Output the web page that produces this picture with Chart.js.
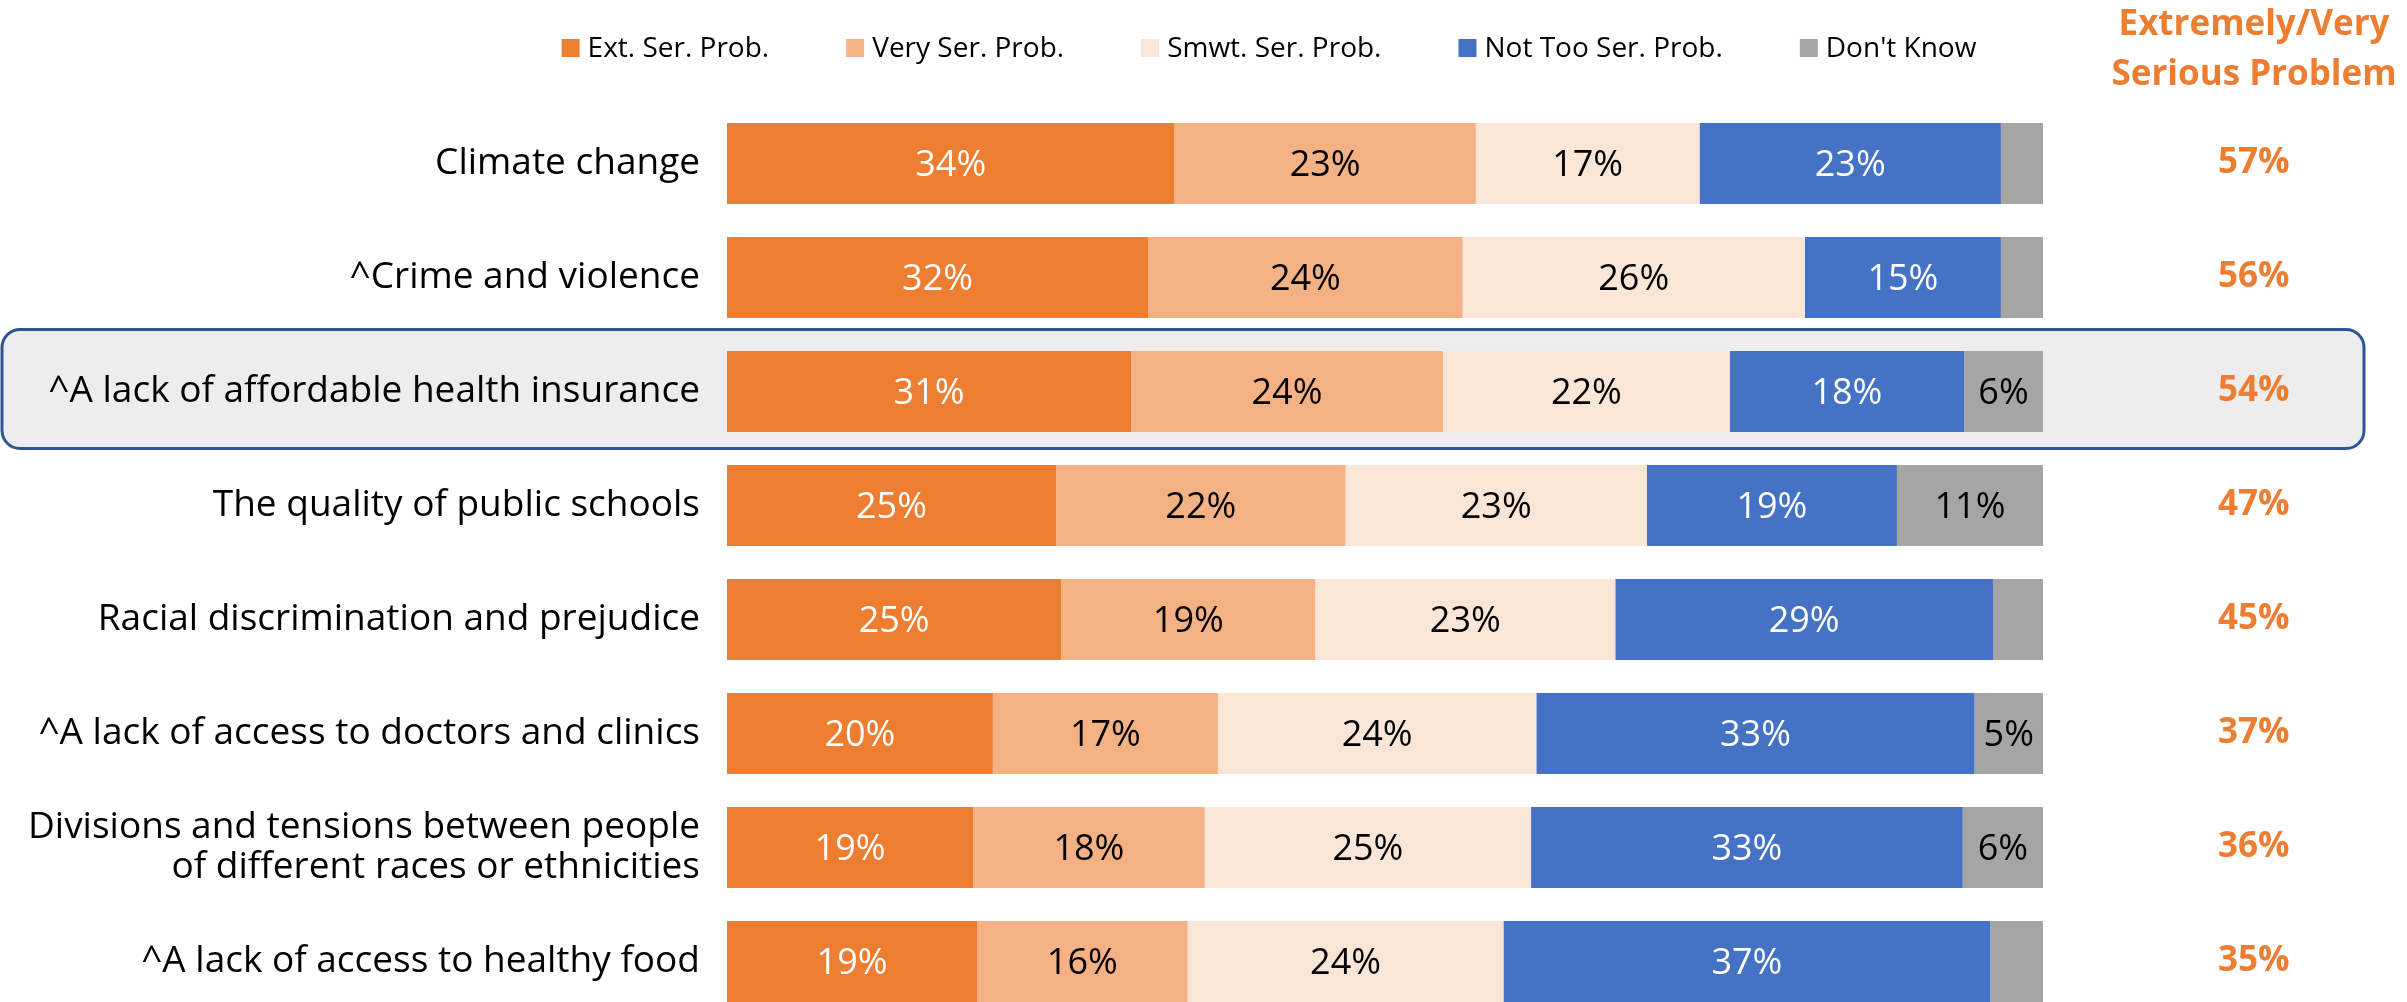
<!DOCTYPE html>
<html>
<head>
<meta charset="utf-8">
<title>Serious problems</title>
<script src="https://cdn.jsdelivr.net/npm/chart.js@4.4.1/dist/chart.umd.min.js"></script>
<style>
  html, body { margin: 0; padding: 0; background: #fff; }
  #wrap { width: 2407px; height: 1002px; position: relative; }
</style>
</head>
<body>
<div id="wrap"><canvas id="chart"></canvas></div>
<script>
// Categories (top to bottom)
const categories = [
  'Climate change',
  '^Crime and violence',
  '^A lack of affordable health insurance',
  'The quality of public schools',
  'Racial discrimination and prejudice',
  '^A lack of access to doctors and clinics',
  ['Divisions and tensions between people', 'of different races or ethnicities'],
  '^A lack of access to healthy food'
];

// Series values (percent)
const extSerious = [34.0, 32.0, 30.7, 25.0, 25.4, 20.2, 18.7, 19.0];
const verySerious = [22.9, 23.9, 23.7, 22.0, 19.3, 17.1, 17.6, 16.0];
const smwtSerious = [17.0, 26.0, 21.8, 22.9, 22.8, 24.2, 24.8, 24.0];
const notTooSerious = [22.9, 14.9, 17.8, 19.0, 28.7, 33.3, 32.8, 37.0];
const dontKnow = [3.2, 3.2, 6.0, 11.1, 3.8, 5.2, 6.1, 4.0];

// Extremely/Very serious totals shown on the right
const seriousTotals = [57, 56, 54, 47, 45, 37, 36, 35];

const seriesNames = ['Ext. Ser. Prob.', 'Very Ser. Prob.', 'Smwt. Ser. Prob.', 'Not Too Ser. Prob.', "Don't Know"];
const seriesColors = ['#ED7D31', '#F4B183', '#FBE5D6', '#4472C4', '#A5A5A5'];
const labelColors = ['#FFFFFF', '#000000', '#000000', '#FFFFFF', '#000000'];

const highlightRow = 2;
const FONT = "'Open Sans', 'Noto Sans', sans-serif";
const ORANGE = '#ED7D31';

// Background + highlight box behind row 3
const backdropPlugin = {
  id: 'backdrop',
  beforeDraw: (chart) => {
    const { ctx } = chart;
    const yScale = chart.scales.y;
    ctx.save();
    ctx.fillStyle = '#FFFFFF';
    ctx.fillRect(0, 0, chart.width, chart.height);

    const cy = yScale.getPixelForValue(highlightRow);
    ctx.beginPath();
    ctx.roundRect(2, cy - 62, 2362, 119, 18);
    ctx.fillStyle = '#EDEDED';
    ctx.fill();
    ctx.lineWidth = 3;
    ctx.strokeStyle = '#2F5597';
    ctx.stroke();
    ctx.restore();
  }
};

// Percent labels inside the segments
const segmentLabelPlugin = {
  id: 'segmentLabels',
  afterDatasetsDraw: (chart) => {
    const { ctx } = chart;
    ctx.save();
    ctx.font = `36px ${FONT}`;
    ctx.textAlign = 'center';
    ctx.textBaseline = 'middle';
    chart.data.datasets.forEach((ds, i) => {
      const meta = chart.getDatasetMeta(i);
      meta.data.forEach((bar, j) => {
        const v = ds.data[j];
        if (v < 4.5) return;
        const { x, y } = bar.getCenterPoint();
        ctx.fillStyle = labelColors[i];
        ctx.fillText(Math.round(v) + '%', x, y + 2);
      });
    });
    ctx.restore();
  }
};

// Legend row and right-hand header
const legendHeaderPlugin = {
  id: 'legendHeader',
  afterDraw: (chart) => {
    const { ctx } = chart;
    ctx.save();
    ctx.font = `28px ${FONT}`;
    ctx.textBaseline = 'middle';
    ctx.textAlign = 'left';
    const box = 18, textGap = 8, itemGap = 77;
    const widths = chart.data.datasets.map(ds => ctx.measureText(ds.label).width);
    const total = widths.reduce((a, w) => a + box + textGap + w, 0) + itemGap * (widths.length - 1);
    let x = 1269 - total / 2;
    const ly = 48;
    chart.data.datasets.forEach((ds, i) => {
      ctx.fillStyle = ds.backgroundColor;
      ctx.fillRect(x, ly - box / 2, box, box);
      ctx.fillStyle = '#000000';
      ctx.fillText(ds.label, x + box + textGap, ly + 1);
      x += box + textGap + widths[i] + itemGap;
    });

    ctx.font = `bold 35px ${FONT}`;
    ctx.textAlign = 'center';
    ctx.textBaseline = 'alphabetic';
    ctx.fillStyle = ORANGE;
    ctx.fillText('Extremely/Very', 2254, 35);
    ctx.fillText('Serious Problem', 2254, 85);
    ctx.restore();
  }
};

// axis widths are fixed; drop the label overhang so the layout padding alone sets the rows
const fixAxis = (width) => (scale) => {
  scale.width = width;
  scale.paddingTop = 0;
  scale.paddingBottom = 0;
};

const seriesData = [extSerious, verySerious, smwtSerious, notTooSerious, dontKnow];

new Chart(document.getElementById('chart'), {
  type: 'bar',
  data: {
    labels: categories,
    datasets: seriesData.map((data, i) => ({
      label: seriesNames[i],
      data,
      backgroundColor: seriesColors[i],
      borderWidth: 0,
      barPercentage: 0.711,
      categoryPercentage: 1,
      clip: false
    }))
  },
  options: {
    indexAxis: 'y',
    responsive: true,
    maintainAspectRatio: false,
    devicePixelRatio: 1,
    animation: false,
    layout: { padding: { top: 163.5, bottom: 40.5, left: 0, right: 0 } },
    plugins: {
      legend: { display: false },
      tooltip: { enabled: false }
    },
    scales: {
      x: {
        stacked: true,
        min: 0,
        max: 100,
        display: false
      },
      y: {
        stacked: true,
        offset: false,
        grid: { display: false, drawTicks: false },
        border: { display: false },
        ticks: {
          color: '#000000',
          padding: 27,
          font: { family: FONT, size: 37, lineHeight: 1.1 }
        },
        afterFit: fixAxis(727)
      },
      y2: {
        type: 'category',
        position: 'right',
        labels: seriousTotals.map(v => v + '%'),
        offset: false,
        grid: { display: false, drawTicks: false },
        border: { display: false },
        ticks: {
          color: ORANGE,
          crossAlign: 'center',
          padding: 175,
          font: { family: FONT, size: 35, weight: 'bold' }
        },
        afterFit: fixAxis(364)
      }
    }
  },
  plugins: [backdropPlugin, segmentLabelPlugin, legendHeaderPlugin]
});
</script>
</body>
</html>
